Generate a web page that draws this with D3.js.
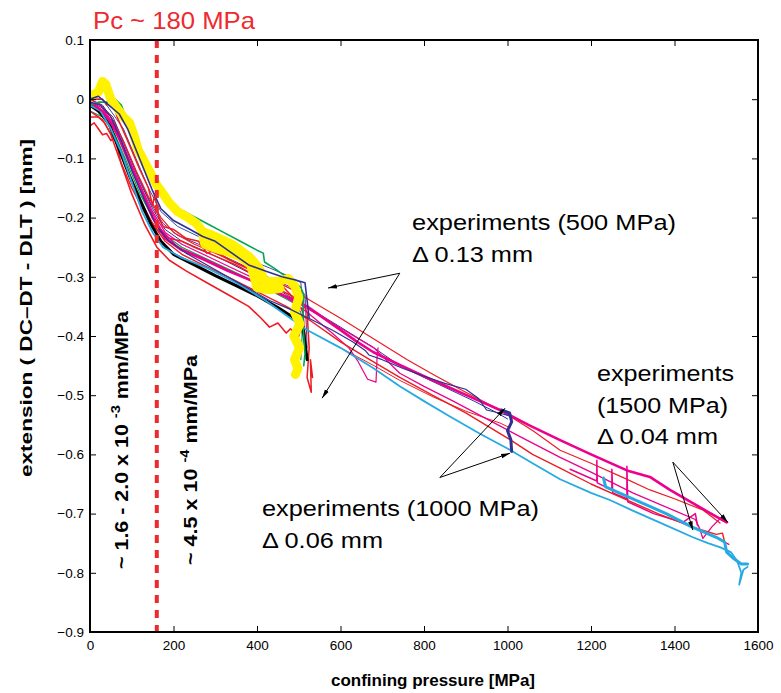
<!DOCTYPE html>
<html>
<head>
<meta charset="utf-8">
<script src="https://cdn.jsdelivr.net/npm/d3@7"></script>
<style>
  body { margin: 0; background: #fff; }
  svg text { font-family: "Liberation Sans", Arial, sans-serif; }
</style>
</head>
<body>
<svg id="chart" width="781" height="693"></svg>
<script>
// tick values
const xTicks = [0, 200, 400, 600, 800, 1000, 1200, 1400, 1600];
const yTicks = [0.1, 0, -0.1, -0.2, -0.3, -0.4, -0.5, -0.6, -0.7, -0.8, -0.9];
const pcLine = 160; // dashed marker position [MPa]

// curves: [confining pressure MPa, extension mm]
const yellow500 = [[0,0.005],[20,0.012],[30,0.03],[38,0.025],[50,0.0],[65,-0.015],[80,-0.03],[95,-0.04],[105,-0.06],[115,-0.085],[130,-0.105],[145,-0.125],[160,-0.145],[175,-0.16],[190,-0.175],[210,-0.19],[235,-0.2],[255,-0.21],[268,-0.222],[275,-0.245],[300,-0.252],[330,-0.258],[360,-0.266],[385,-0.28],[400,-0.318],[430,-0.322],[455,-0.32],[445,-0.31],[420,-0.31],[405,-0.285],[380,-0.265],[340,-0.25],[300,-0.238],[275,-0.225],[300,-0.232],[340,-0.245],[370,-0.26],[400,-0.282],[420,-0.308],[450,-0.308],[475,-0.303],[490,-0.315],[500,-0.335],[490,-0.36],[503,-0.38],[488,-0.4],[502,-0.42],[490,-0.44],[498,-0.455],[492,-0.465]];
const green500 = [[0,-0.01],[20,-0.005],[40,-0.005],[60,0.0],[75,-0.01],[90,-0.04],[110,-0.07],[130,-0.1],[150,-0.135],[170,-0.16],[200,-0.18],[240,-0.195],[280,-0.21],[320,-0.225],[360,-0.24],[400,-0.255],[415,-0.26],[418,-0.275],[440,-0.285],[470,-0.3],[490,-0.31],[505,-0.318],[512,-0.33],[510,-0.38],[515,-0.43],[512,-0.45]];
const green500b = [[0,-0.02],[30,-0.03],[60,-0.06],[90,-0.11],[120,-0.16],[150,-0.2],[180,-0.23],[220,-0.25],[280,-0.27],[340,-0.29],[400,-0.31],[450,-0.33],[490,-0.345],[505,-0.36],[508,-0.4],[505,-0.44]];
const navy500 = [[0,0.0],[20,0.005],[45,-0.01],[70,-0.025],[90,-0.05],[110,-0.085],[130,-0.12],[150,-0.155],[170,-0.185],[200,-0.205],[240,-0.22],[270,-0.232],[300,-0.24],[340,-0.26],[380,-0.28],[420,-0.29],[460,-0.3],[490,-0.305],[515,-0.31],[520,-0.34],[525,-0.37]];
const navy1000 = [[0,-0.005],[25,-0.01],[50,-0.03],[75,-0.07],[100,-0.12],[130,-0.17],[160,-0.215],[190,-0.24],[230,-0.26],[280,-0.28],[330,-0.3],[380,-0.32],[430,-0.34],[480,-0.355],[530,-0.372],[580,-0.39],[630,-0.41],[660,-0.425],[668,-0.432],[700,-0.44],[750,-0.455],[800,-0.468],[850,-0.48],[900,-0.49],[930,-0.505],[950,-0.525],[980,-0.53],[1005,-0.535]];
const navy1000b = [[0,0.0],[30,-0.01],[60,-0.04],[90,-0.09],[120,-0.14],[150,-0.185],[180,-0.22],[220,-0.24],[270,-0.255],[330,-0.275],[400,-0.3],[470,-0.33],[530,-0.355],[600,-0.385],[680,-0.42],[742,-0.45],[800,-0.47],[860,-0.49],[920,-0.51],[970,-0.528],[1000,-0.54]];
const navyEnd = [[985,-0.525],[1005,-0.53],[1010,-0.545],[1000,-0.56],[1008,-0.575],[1010,-0.595]];
const black500 = [[0,-0.01],[20,-0.02],[45,-0.04],[70,-0.085],[95,-0.13],[120,-0.17],[145,-0.21],[170,-0.24],[200,-0.262],[250,-0.28],[300,-0.298],[350,-0.315],[400,-0.332],[450,-0.352],[490,-0.37],[510,-0.385],[515,-0.41],[520,-0.44]];
const redLow = [[0,-0.045],[10,-0.04],[20,-0.05],[30,-0.06],[40,-0.058],[50,-0.07],[60,-0.065],[75,-0.11],[100,-0.16],[130,-0.21],[160,-0.25],[190,-0.272],[230,-0.29],[280,-0.31],[330,-0.33],[380,-0.35],[410,-0.37],[430,-0.385],[450,-0.378],[470,-0.395],[480,-0.388],[500,-0.4],[505,-0.385],[510,-0.395]];
const red500 = [[0,-0.03],[20,-0.03],[35,-0.04],[50,-0.06],[70,-0.1],[100,-0.15],[130,-0.19],[160,-0.22],[190,-0.235],[220,-0.24],[250,-0.25],[300,-0.265],[350,-0.28],[400,-0.3],[450,-0.32],[490,-0.335],[510,-0.345],[520,-0.36],[525,-0.42],[520,-0.47],[530,-0.495],[528,-0.44],[533,-0.47]];
const red500b = [[0,0.0],[30,0.0],[40,-0.01],[45,0.005],[55,-0.005],[65,-0.03],[90,-0.07],[120,-0.12],[140,-0.15],[150,-0.18],[155,-0.16],[165,-0.2],[175,-0.215],[200,-0.22],[230,-0.235],[260,-0.24],[280,-0.26],[300,-0.255],[330,-0.27],[360,-0.28],[390,-0.29],[400,-0.3],[430,-0.31],[460,-0.315],[480,-0.33],[500,-0.345],[510,-0.36],[515,-0.4]];
const red1500a = [[0,-0.02],[30,-0.035],[60,-0.07],[90,-0.12],[120,-0.17],[150,-0.21],[180,-0.24],[220,-0.262],[270,-0.28],[330,-0.3],[400,-0.325],[470,-0.35],[530,-0.375],[600,-0.41],[670,-0.44],[742,-0.47],[820,-0.5],[900,-0.53],[1006,-0.575],[1060,-0.6],[1126,-0.623],[1200,-0.65],[1280,-0.675],[1360,-0.7],[1440,-0.722],[1500,-0.735],[1515,-0.733],[1520,-0.748],[1530,-0.752]];
const red1500b = [[0,0.0],[25,-0.01],[50,-0.03],[80,-0.07],[110,-0.12],[140,-0.165],[170,-0.2],[200,-0.225],[250,-0.245],[300,-0.26],[360,-0.28],[420,-0.3],[480,-0.32],[540,-0.345],[600,-0.37],[680,-0.405],[760,-0.44],[822,-0.465],[900,-0.495],[982,-0.525],[1061,-0.56],[1126,-0.593],[1200,-0.615],[1280,-0.64],[1341,-0.66],[1400,-0.675],[1468,-0.694],[1509,-0.716]];
const red1000 = [[600,-0.42],[680,-0.45],[742,-0.475],[822,-0.503],[900,-0.527],[982,-0.547],[1006,-0.555]];
const cyanLong = [[0,-0.01],[25,-0.02],[50,-0.05],[75,-0.09],[100,-0.14],[125,-0.19],[150,-0.225],[175,-0.25],[220,-0.268],[280,-0.285],[350,-0.31],[420,-0.34],[480,-0.37],[520,-0.39],[600,-0.42],[680,-0.455],[742,-0.485],[800,-0.51],[860,-0.535],[934,-0.565],[1000,-0.59],[1060,-0.615],[1126,-0.642],[1200,-0.665],[1245,-0.677],[1300,-0.695],[1380,-0.72],[1444,-0.74],[1480,-0.75],[1510,-0.757],[1535,-0.765],[1550,-0.78],[1560,-0.8],[1555,-0.82],[1565,-0.795],[1575,-0.79]];
const cyan1500 = [[1230,-0.64],[1235,-0.655],[1300,-0.675],[1380,-0.7],[1440,-0.722],[1500,-0.74],[1520,-0.748],[1525,-0.765],[1540,-0.775],[1560,-0.785],[1575,-0.785]];
const magenta1500 = [[0,-0.005],[30,-0.02],[60,-0.05],[90,-0.1],[120,-0.15],[150,-0.2],[180,-0.235],[220,-0.255],[270,-0.27],[330,-0.29],[400,-0.31],[460,-0.33],[520,-0.35],[580,-0.38],[640,-0.41],[678,-0.427],[742,-0.449],[800,-0.468],[870,-0.49],[927,-0.508],[982,-0.525],[1050,-0.55],[1126,-0.576],[1200,-0.6],[1286,-0.627],[1341,-0.638],[1389,-0.66],[1450,-0.685],[1500,-0.705],[1525,-0.715]];
const magenta1500b = [[0,-0.01],[40,-0.03],[80,-0.08],[110,-0.13],[140,-0.18],[170,-0.22],[210,-0.25],[260,-0.265],[320,-0.285],[380,-0.305],[440,-0.325],[500,-0.345],[560,-0.37],[620,-0.395],[680,-0.42],[742,-0.463],[800,-0.485],[870,-0.51],[950,-0.54],[1030,-0.57],[1126,-0.605],[1200,-0.63],[1300,-0.665],[1400,-0.695],[1450,-0.71],[1460,-0.725],[1468,-0.742],[1490,-0.722],[1510,-0.708],[1525,-0.713]];
const magentaStep = [[1150,-0.625],[1214,-0.645],[1214,-0.61],[1215,-0.648],[1250,-0.66],[1250,-0.625],[1252,-0.665],[1286,-0.675],[1286,-0.62],[1288,-0.68],[1350,-0.7],[1420,-0.715],[1450,-0.7],[1455,-0.72]];
const pink700 = [[0,-0.005],[30,-0.015],[60,-0.045],[90,-0.095],[120,-0.145],[150,-0.19],[180,-0.225],[220,-0.245],[280,-0.265],[340,-0.285],[400,-0.305],[460,-0.33],[520,-0.36],[580,-0.395],[620,-0.42],[642,-0.443],[665,-0.473],[685,-0.478],[688,-0.43],[690,-0.42]];
const purple500 = [[0,-0.005],[25,-0.01],[55,-0.03],[85,-0.08],[115,-0.13],[145,-0.175],[175,-0.21],[210,-0.23],[260,-0.245],[320,-0.265],[380,-0.285],[440,-0.305],[490,-0.32],[515,-0.33],[518,-0.38],[520,-0.42]];
const blue500 = [[0,0.0],[30,0.0],[50,-0.02],[80,-0.05],[110,-0.1],[140,-0.15],[170,-0.19],[210,-0.215],[260,-0.232],[310,-0.25],[370,-0.268],[430,-0.285],[480,-0.3],[505,-0.31],[510,-0.35],[512,-0.4]];

const series = [
  {data: navy1000b, color: "#2e3192", w: 1},
  {data: purple500, color: "#662d91", w: 1},
  {data: blue500, color: "#3b4ba8", w: 1},
  {data: green500b, color: "#00a651", w: 1.2},
  {data: red1500b, color: "#ed1c24", w: 1.2},
  {data: red1000, color: "#ed1c24", w: 1},
  {data: red500, color: "#ed1c24", w: 1.5},
  {data: redLow, color: "#ed1c24", w: 1.6},
  {data: red500b, color: "#ed1c24", w: 1.5},
  {data: pink700, color: "#ec008c", w: 1.2},
  {data: magenta1500b, color: "#ec008c", w: 1.3},
  {data: magentaStep, color: "#ec008c", w: 1.5},
  {data: red1500a, color: "#ed1c24", w: 1.4},
  {data: black500, color: "#000000", w: 3},
  {data: cyanLong, color: "#27aae1", w: 1.8},
  {data: cyan1500, color: "#27aae1", w: 3},
  {data: magenta1500, color: "#ec008c", w: 2.6},
  {data: green500, color: "#00a651", w: 1.6},
  {data: yellow500, color: "#fff200", w: 9},
  {data: navy500, color: "#2e3192", w: 1.6},
  {data: navy1000, color: "#2e3192", w: 1.2},
  {data: navyEnd, color: "#2e3192", w: 3}
];

// annotation arrows [from, to] in data units
const arrows = [
  [[742,-0.294],[570,-0.319]], [[742,-0.294],[556,-0.505]],
  [[838,-0.639],[994,-0.522]], [[838,-0.639],[1006,-0.598]],
  [[1396,-0.613],[1444,-0.728]], [[1396,-0.613],[1528,-0.715]]
];

const svg = d3.select("#chart");
const x = d3.scaleLinear().domain([0, 1600]).range([90, 758]);
const y = d3.scaleLinear().domain([-0.9, 0.1]).range([632, 40]);

const defs = svg.append("defs");
defs.append("clipPath").attr("id", "clip").append("rect")
  .attr("x", 90).attr("y", 40).attr("width", 668).attr("height", 592);
defs.append("marker").attr("id", "arr").attr("viewBox", "0 0 10 10")
  .attr("refX", 10).attr("refY", 5).attr("markerWidth", 9).attr("markerHeight", 9)
  .attr("orient", "auto").attr("markerUnits", "userSpaceOnUse")
  .append("path").attr("d", "M0,2.5 L10,5 L0,7.5 z").attr("fill", "#000");

const line = d3.line().x(d => x(d[0])).y(d => y(d[1])).curve(d3.curveLinear);

svg.append("g").attr("clip-path", "url(#clip)")
  .selectAll("path").data(series).enter().append("path")
  .attr("d", d => line(d.data))
  .attr("fill", "none")
  .attr("stroke", d => d.color)
  .attr("stroke-width", d => d.w)
  .attr("stroke-linejoin", "round")
  .attr("stroke-linecap", "round");

// dashed Pc line
svg.append("line")
  .attr("x1", x(pcLine)).attr("x2", x(pcLine))
  .attr("y1", y(0.1)).attr("y2", y(-0.9))
  .attr("stroke", "#ee2a30").attr("stroke-width", 4)
  .attr("stroke-dasharray", "8,7");

// axes
svg.append("g").attr("transform", "translate(0,632)")
  .call(d3.axisBottom(x).tickValues(xTicks).tickSize(-6).tickSizeOuter(0).tickPadding(8)
    .tickFormat(d3.format("d")));
svg.append("g").attr("transform", "translate(0,40)")
  .call(d3.axisTop(x).tickValues(xTicks).tickSize(-6).tickSizeOuter(0).tickFormat(""));
svg.append("g").attr("transform", "translate(90,0)")
  .call(d3.axisLeft(y).tickValues(yTicks).tickSize(-6).tickSizeOuter(0).tickPadding(6)
    .tickFormat(d => d === 0 ? "0" : d3.format(".1f")(d)));
svg.append("g").attr("transform", "translate(758,0)")
  .call(d3.axisRight(y).tickValues(yTicks).tickSize(-6).tickSizeOuter(0).tickFormat(""));
svg.selectAll(".domain").remove();
svg.selectAll(".tick line").attr("stroke", "#000").attr("stroke-width", 1);
svg.selectAll(".tick text").attr("font-size", 13.5).attr("fill", "#000");

svg.append("rect").attr("x", 90).attr("y", 40).attr("width", 668).attr("height", 592)
  .attr("fill", "none").attr("stroke", "#000").attr("stroke-width", 2);

// axis titles
svg.append("text").attr("x", 433).attr("y", 686).attr("text-anchor", "middle")
  .attr("font-size", 17).attr("font-weight", "bold").text("confining pressure [MPa]");
svg.append("text").attr("transform", "translate(32,308) rotate(-90)").attr("text-anchor", "middle")
  .attr("font-size", 17).attr("font-weight", "bold")
  .attr("textLength", 338).attr("lengthAdjust", "spacingAndGlyphs")
  .text("extension ( DC\u2013DT - DLT ) [mm]");

// Pc label
svg.append("text").attr("x", 93).attr("y", 29)
  .attr("font-size", 24).attr("fill", "#ee2a30")
  .attr("textLength", 162).attr("lengthAdjust", "spacingAndGlyphs").text("Pc ~ 180 MPa");

// slope labels (rotated)
function slope(cx, cy, len, base, exp) {
  const t = svg.append("text").attr("transform", `translate(${cx},${cy}) rotate(-90)`)
    .attr("text-anchor", "middle").attr("font-size", 19).attr("font-weight", "bold")
    .attr("textLength", len).attr("lengthAdjust", "spacingAndGlyphs");
  t.append("tspan").text(base);
  t.append("tspan").attr("dy", -8).attr("font-size", 13).text(exp);
  t.append("tspan").attr("dy", 8).text(" mm/MPa");
}
slope(128, 440, 258, "~ 1.6 - 2.0 x 10 ", "-3");
slope(197, 460, 210, "~ 4.5 x 10 ", "-4");

// experiment notes: text and its width in the picture
const notes = [
  {x: 412, y: 230, lines: [["experiments (500 MPa)", 264], ["\u0394 0.13 mm", 121]]},
  {x: 262, y: 516, lines: [["experiments (1000 MPa)", 277], ["\u0394 0.06 mm", 121]]},
  {x: 597, y: 381, lines: [["experiments", 137], ["(1500 MPa)", 131], ["\u0394 0.04 mm", 121]]}
];
notes.forEach(n => {
  n.lines.forEach((s, i) => {
    svg.append("text").attr("x", n.x).attr("y", n.y + i * 31.5)
      .attr("font-size", 22).attr("fill", "#000")
      .attr("textLength", s[1]).attr("lengthAdjust", "spacingAndGlyphs").text(s[0]);
  });
});

svg.append("g").selectAll("line").data(arrows).enter().append("line")
  .attr("x1", d => x(d[0][0])).attr("y1", d => y(d[0][1]))
  .attr("x2", d => x(d[1][0])).attr("y2", d => y(d[1][1]))
  .attr("stroke", "#000").attr("stroke-width", 1)
  .attr("marker-end", "url(#arr)");
</script>
</body>
</html>
